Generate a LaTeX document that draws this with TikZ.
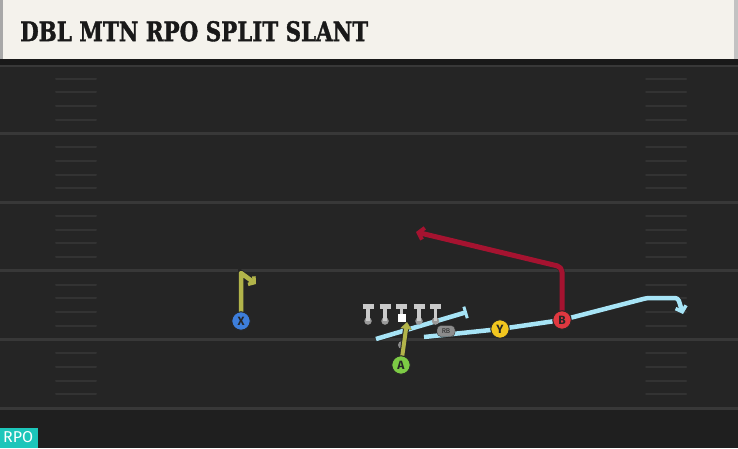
\documentclass[tikz,border=0pt]{standalone}
\usepackage{fontspec}
\usetikzlibrary{arrows.meta}

\newfontfamily\titlefont{DejaVu Serif}[FakeBold=1.5]
\newfontfamily\labelfont{Fira Sans}

\definecolor{fieldbg}{HTML}{252525}
\definecolor{fieldline}{HTML}{383838}
\definecolor{hashgray}{HTML}{333333}
\definecolor{titlebg}{HTML}{F4F2EC}
\definecolor{titleedge}{HTML}{A8A8A8}
\definecolor{rpoteal}{HTML}{1DC6BA}
\definecolor{xblue}{HTML}{3D7EDB}
\definecolor{agreen}{HTML}{7DCB45}
\definecolor{yyellow}{HTML}{F2C61F}
\definecolor{bred}{HTML}{DF3840}
\definecolor{olive}{HTML}{B2B44A}
\definecolor{motion}{HTML}{A7E4F6}
\definecolor{crimson}{HTML}{A51330}
\definecolor{blockgray}{HTML}{CACACA}
\definecolor{dotgray}{HTML}{9A9A9A}

\tikzset{
  player/.style = {circle, draw=black!85, line width=1pt, fill=#1,
    minimum size=18.5pt, inner sep=0pt, text=black!85,
    font=\labelfont\bfseries\fontsize{12}{12}\selectfont},
  route/.style = {line width=4.5pt, draw=#1, line join=round,
    preaction={draw=black!85, line width=6pt}},
  lineman/.style = {circle, fill=dotgray, minimum size=7.5pt, inner sep=0pt},
  center/.style = {rectangle, fill=white, minimum size=8pt, inner sep=0pt},
  blockT/.style = {draw=blockgray, line width=3.5pt},
  yardline/.style = {draw=fieldline, line width=3pt},
  hashmark/.style = {draw=hashgray, line width=2pt, line cap=round}
}

\begin{document}
\begin{tikzpicture}[x=1pt, y=-1pt]

  \def\hl{56}
  \def\hr{646}
  \def\hw{40}

  \useasboundingbox (0,0) rectangle (738,448);
  \fill[fieldbg] (0,0) rectangle (738,448);
  \fill[black!88] (0,408) rectangle (738,448);

  \foreach \yl in {65,133.6,202.2,270.8,339.4,408}
    \draw[yardline] (0,\yl) -- (738,\yl);
  \foreach \yl in {65,133.6,202.2,270.8,339.4}
    \foreach \h in {1,...,4} {
      \draw[hashmark] (\hl,{\yl+13.72*\h}) -- ++(\hw,0);
      \draw[hashmark] (\hr,{\yl+13.72*\h}) -- ++(\hw,0);
    }

  \fill[black!90] (0,59) rectangle (738,65);
  \fill[titlebg] (0,0) rectangle (738,59);
  \fill[titleedge] (0,0) rectangle (3,59);
  \fill[titleedge!70] (734,0) rectangle (738,59);
  \node[anchor=south west, inner sep=0pt, text=black!90] (title) at (20,41.7)
    {\resizebox{348pt}{20pt}{\titlefont\bfseries DBL MTN RPO SPLIT SLANT}};

  \node[fill=rpoteal, minimum width=38pt, minimum height=20pt, inner sep=0pt,
    anchor=south west] (rpo) at (0,448) {};
  \node[anchor=south west, inner sep=0pt, text=white] (rpotext) at (3,443)
    {\resizebox{30pt}{11pt}{\labelfont RPO}};

  % player spots
  \coordinate (posX) at (241,321);
  \coordinate (posA) at (401,365);
  \coordinate (posY) at (500,329);
  \coordinate (posB) at (562,320);

  % motion
  \coordinate (m1start) at (376,339);
  \coordinate (m1end) at (467,312);
  \draw[route=motion, -{Bar[width=12pt, line width=3pt]}] (m1start) -- (m1end);
  \coordinate (m2start) at (424,337);
  \coordinate (m2turn) at (647,298);
  \coordinate (m2corner) at (678,298);
  \coordinate (m2end) at (683,314);
  \draw[route=motion, rounded corners=3pt, -{Straight Barb[length=5pt, width=11pt, line width=3.5pt]}]
    (m2start) -- (posY) -- (posB) -- (m2turn) -- (m2corner) -- (m2end);

  % line
  \node[circle, fill=black!45, minimum size=8pt, inner sep=0pt] (QB) at (402,345) {};
  \foreach \lx [count=\i] in {368,385,419,435.5} {
    \node[lineman] (OL\i) at (\lx,321) {};
    \draw[blockT] (OL\i.center) -- (\lx,306.5);
    \draw[blockT, line width=4.5pt] (\lx-5.5,306.5) -- (\lx+5.5,306.5);
  }
  \draw[blockT] (401.5,318) -- (401.5,306.5);
  \draw[blockT, line width=4.5pt] (396,306.5) -- (407,306.5);
  \node[center] (C) at (401.5,318) {};

  % routes
  \coordinate (Xtop) at (241,273);
  \coordinate (Xend) at (256,284);
  \draw[route=olive, -{Straight Barb[length=4pt, width=10pt, line width=3.5pt]}]
    (posX) -- (Xtop) -- (Xend);
  \coordinate (Aend) at (407,322);
  \draw[route=olive, line width=4pt, -{Triangle[length=7pt, width=11pt]}]
    (posA) -- (Aend);
  \coordinate (Bcut) at (562,267);
  \coordinate (Bend) at (416,232);
  \draw[route=crimson, line width=5pt, rounded corners=5pt,
    -{Straight Barb[length=5pt, width=12pt, line width=4pt]}]
    (posB) -- (Bcut) -- (Bend);

  % players
  \node[player=xblue] (X) at (posX) {X};
  \node[player=agreen] (A) at (posA) {A};
  \node[player=yyellow] (Y) at (posY) {Y};
  \node[player=bred] (B) at (posB) {B};
  \node[draw=black!80, fill=black!45, rounded corners=4pt, minimum width=18pt,
    minimum height=11pt, inner sep=0pt, text=black!85,
    font=\labelfont\fontsize{7}{7}\selectfont] (RB) at (446,331) {RB};

\end{tikzpicture}
\end{document}
